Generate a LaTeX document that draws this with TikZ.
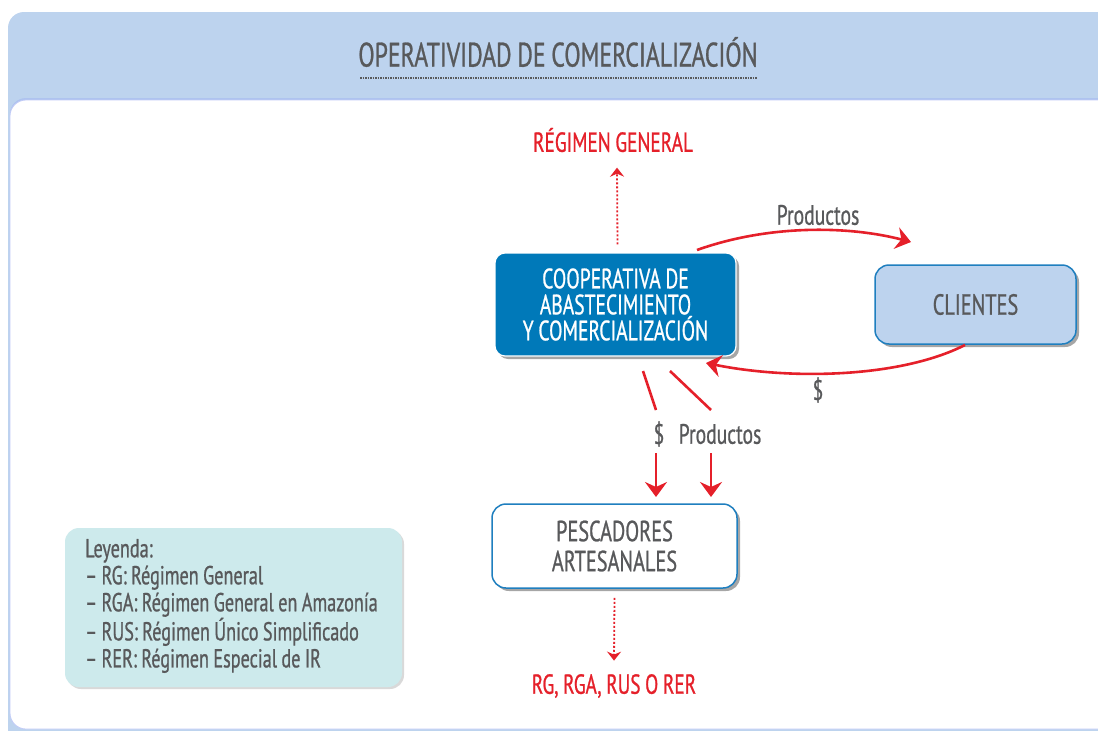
\documentclass[tikz,border=0pt]{standalone}
\usepackage{fontspec}
\setmainfont{PT Sans}[FakeStretch=0.7,FakeBold=0.8,WordSpace=0.9]
\usetikzlibrary{arrows.meta,shadows,calc}
\definecolor{panelblue}{HTML}{BDD3EE}
\definecolor{coopblue}{HTML}{0079B9}
\definecolor{edgeblue}{HTML}{1F7FBF}
\definecolor{cred}{HTML}{E5202A}
\definecolor{txtgray}{HTML}{58595B}
\definecolor{legfill}{HTML}{CDEAEC}
\tikzset{
  boxshadow/.style={drop shadow={shadow xshift=3pt,shadow yshift=-3pt,fill=black,opacity=0.35}},
  coopbox/.style={rounded corners=10pt,fill=coopblue,draw=white,line width=1.2pt,boxshadow,
     minimum width=241pt,minimum height=103pt,align=center,text=white,
     font=\fontsize{28}{26}\selectfont},
  clientbox/.style={rounded corners=14pt,fill=panelblue,draw=edgeblue,line width=1.5pt,boxshadow,
     minimum width=201pt,minimum height=79pt,align=center,text=txtgray,
     font=\fontsize{29}{30}\selectfont},
  pescbox/.style={rounded corners=14pt,fill=white,draw=edgeblue,line width=1.5pt,boxshadow,
     minimum width=245pt,minimum height=84pt,align=center,text=txtgray,
     font=\fontsize{29}{30}\selectfont},
  legbox/.style={rounded corners=14pt,fill=legfill,
     drop shadow={shadow xshift=2pt,shadow yshift=-2pt,fill=black,opacity=0.15},
     minimum width=337pt,minimum height=159pt},
  legtext/.style={align=left,text=txtgray,inner sep=0pt,font=\fontsize{26}{27}\selectfont},
  redlbl/.style={text=cred,font=\fontsize{27.5}{30}\selectfont},
  graylbl/.style={text=txtgray,font=\fontsize{28}{30}\selectfont},
  redarrow/.style={draw=cred,line width=2.6pt,-{Stealth[length=15pt,width=22pt,inset=5pt]}},
  redline/.style={draw=cred,line width=2.6pt},
  dotarrow/.style={draw=cred,line width=1.8pt,dash pattern=on 2pt off 2pt,
     -{Stealth[length=9pt,width=14pt,inset=3pt]}},
}
\begin{document}
\begin{tikzpicture}[x=1pt,y=-1pt]
\useasboundingbox (0,0) rectangle (1098,731);
% background panels
\fill[panelblue,rounded corners=16pt] (8,12) rectangle (1140,745);
\fill[white,rounded corners=16pt,drop shadow={shadow xshift=0pt,shadow yshift=2pt,fill=panelblue!70!blue,opacity=0.25}] (10,100) rectangle (1140,729);
\draw[panelblue!80!blue!60,line width=0.8pt,rounded corners=16pt] (1140,100) -- (10,100) -- (10,729) -- (1140,729);
% title
\node[text=txtgray,font=\fontsize{34}{36}\selectfont] (title) at (558,52) {OPERATIVIDAD DE COMERCIALIZACIÓN};
\coordinate (ul1) at (360,78);
\coordinate (ul2) at (757,78);
\draw[txtgray,line width=1.6pt,dash pattern=on 1.5pt off 1pt] (ul1) -- (ul2);
% nodes
\node[coopbox] (coop) at (615.5,304.5) {COOPERATIVA DE\\ABASTECIMIENTO\\Y COMERCIALIZACIÓN};
\node[clientbox] (clients) at (975.5,304.5) {CLIENTES};
\node[pescbox] (pesc) at (614.5,546) {PESCADORES\\ARTESANALES};
\node[legbox] (legend) at (233.5,607.5) {};
\node[legtext,anchor=west] (legtxt) at (85,606) {Leyenda:\\– RG: Régimen General\\– RGA: Régimen General en Amazonía\\– RUS: Régimen Único Simplificado\\– RER: Régimen Especial de IR};
\node[redlbl] (rg) at (613,140) {RÉGIMEN GENERAL};
\node[redlbl] (rgx) at (614,686) {RG, RGA, RUS O RER};
\node[graylbl] (prod1) at (818,215) {Productos};
\node[graylbl] (dol1) at (818,390) {\$};
\node[graylbl] (dol2) at (659,434) {\$};
\node[graylbl] (prod2) at (720,434) {Productos};
% dotted arrows
\draw[dotarrow] ($(coop.north)+(2,-8)$) -- ($(rg.south)+(4,12)$);
\draw[dotarrow] ($(pesc.south)+(0,9)$) -- ($(rgx.north)+(0,-10)$);
% curved arrows
\coordinate (c1s) at (697,250);
\coordinate (c1e) at (911,242);
\draw[redarrow] (c1s) .. controls (770,224) and (850,226) .. (c1e);
\coordinate (c2s) at (965,345);
\coordinate (c2e) at (706,363);
\draw[redarrow] (c2s) .. controls (900,378) and (790,380) .. (c2e);
% lower connectors
\draw[redline] (643,371) -- (656,410);
\draw[redline] (670,371) -- (711,410);
\draw[redarrow] (656,453) -- (656,497);
\draw[redarrow] (711,453) -- (711,497);
\end{tikzpicture}
\end{document}
